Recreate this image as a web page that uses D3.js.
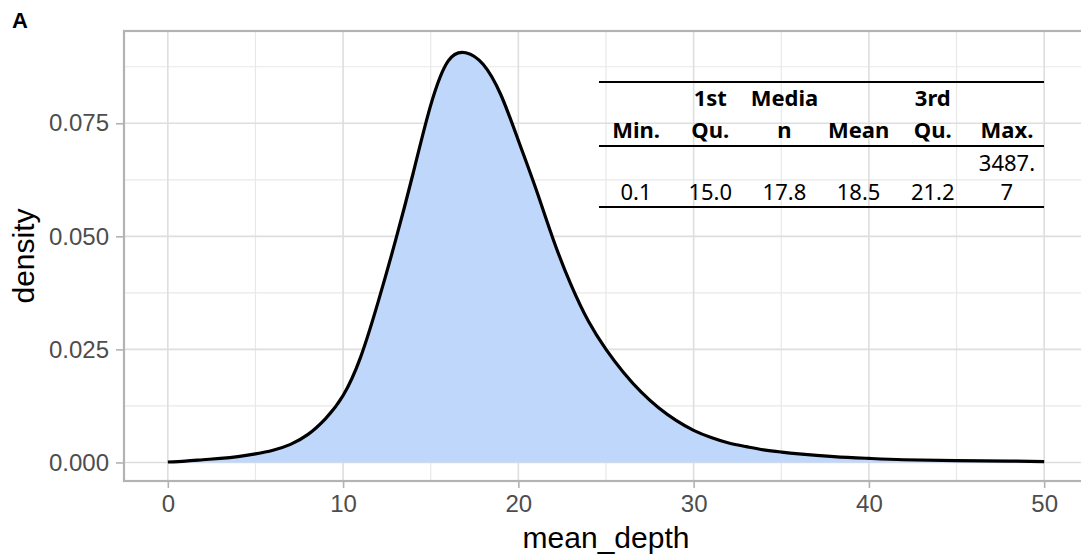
<!DOCTYPE html>
<html>
<head>
<meta charset="utf-8">
<script src="https://cdn.jsdelivr.net/npm/d3@7"></script>
<style>
  html, body { margin: 0; padding: 0; background: #fff; }
  svg { display: block; font-family: "Liberation Sans", Arial, sans-serif; }
</style>
</head>
<body>
<svg id="chart" width="1081" height="559"></svg>
<script>
// ---- data ----
const depthX = [0, 1, 2, 3, 4, 5, 6, 7, 8, 9, 10, 11, 12, 13, 14, 15, 16, 17, 18, 19, 20,
  21, 22, 23, 24, 25, 26, 27, 28, 29, 30, 31, 32, 33, 34, 35, 36, 38, 40, 42, 45, 48, 50];
const densityY = [0.0001, 0.0003, 0.0006, 0.0009, 0.0013, 0.0019, 0.0027, 0.0040, 0.0062, 0.0097,
  0.0148, 0.0233, 0.0355, 0.0492, 0.0640, 0.0790, 0.0888, 0.0906, 0.0880, 0.0813, 0.0712,
  0.0605, 0.0492, 0.0393, 0.0312, 0.0250, 0.0199, 0.0156, 0.0121, 0.0093, 0.0071,
  0.0055, 0.0043, 0.0035, 0.0028, 0.0023, 0.0019, 0.0013, 0.0009, 0.0006, 0.0004, 0.0003, 0.0002];

const xTicks = [0, 10, 20, 30, 40, 50];
const xMinor = [5, 15, 25, 35, 45];
const yTicks = [0, 0.025, 0.05, 0.075];
const yMinor = [0.0125, 0.0375, 0.0625, 0.0875];

const tableHeader1 = ["", "1st", "Media", "", "3rd", ""];
const tableHeader2 = ["Min.", "Qu.", "n", "Mean", "Qu.", "Max."];
const tableBody1 = ["", "", "", "", "", "3487."];
const tableBody2 = ["0.1", "15.0", "17.8", "18.5", "21.2", "7"];

const panelLabel = "A";
const xTitle = "mean_depth";
const yTitle = "density";

// ---- layout ----
const svg = d3.select("#chart");
const P = { left: 124, right: 1088, top: 31, bottom: 481 };

const x = d3.scaleLinear().domain([-2.5, 52.5]).range([P.left, P.right]);
const y = d3.scaleLinear().domain([-0.0041, 0.0954]).range([P.bottom, P.top]);

svg.append("clipPath").attr("id", "pclip")
  .append("rect").attr("x", P.left).attr("y", P.top)
  .attr("width", P.right - P.left).attr("height", P.bottom - P.top);

const plot = svg.append("g").attr("clip-path", "url(#pclip)");

// grid
plot.selectAll(".xminor").data(xMinor).join("line")
  .attr("x1", d => x(d)).attr("x2", d => x(d)).attr("y1", P.top).attr("y2", P.bottom)
  .attr("stroke", "#e8e8e8").attr("stroke-width", 1.2);
plot.selectAll(".yminor").data(yMinor).join("line")
  .attr("y1", d => y(d)).attr("y2", d => y(d)).attr("x1", P.left).attr("x2", P.right)
  .attr("stroke", "#e8e8e8").attr("stroke-width", 1.2);
plot.selectAll(".xmajor").data(xTicks).join("line")
  .attr("x1", d => x(d)).attr("x2", d => x(d)).attr("y1", P.top).attr("y2", P.bottom)
  .attr("stroke", "#dedede").attr("stroke-width", 1.6);
plot.selectAll(".ymajor").data(yTicks).join("line")
  .attr("y1", d => y(d)).attr("y2", d => y(d)).attr("x1", P.left).attr("x2", P.right)
  .attr("stroke", "#dedede").attr("stroke-width", 1.6);

// density
const pts = depthX.map((d, i) => [d, densityY[i]]);
const curve = d3.curveNatural;
const area = d3.area().x(d => x(d[0])).y0(y(0)).y1(d => y(d[1])).curve(curve);
const line = d3.line().x(d => x(d[0])).y(d => y(d[1])).curve(curve);
plot.append("path").datum(pts).attr("d", area).attr("fill", "#bfd7fb");
plot.append("path").datum(pts).attr("d", line).attr("fill", "none")
  .attr("stroke", "#000").attr("stroke-width", 3.2).attr("stroke-linejoin", "round");

// panel border
svg.append("rect").attr("x", P.left).attr("y", P.top)
  .attr("width", P.right - P.left).attr("height", P.bottom - P.top)
  .attr("fill", "none").attr("stroke", "#b3b3b3").attr("stroke-width", 2.2);

// axes
const xAxis = d3.axisBottom(x).tickValues(xTicks).tickSize(6).tickPadding(7).tickFormat(d3.format("d"));
const gx = svg.append("g").attr("transform", `translate(0,${P.bottom + 1})`).call(xAxis);
gx.select(".domain").remove();
gx.selectAll(".tick line").attr("stroke", "#b3b3b3").attr("stroke-width", 1.6);
gx.selectAll(".tick text").attr("fill", "#4d4d4d")
  .style("font-size", "24px").style("font-family", "'Liberation Sans', Arial, sans-serif");

const yAxis = d3.axisLeft(y).tickValues(yTicks).tickSize(7).tickPadding(7).tickFormat(d3.format(".3f"));
const gy = svg.append("g").attr("transform", `translate(${P.left - 1},0)`).call(yAxis);
gy.select(".domain").remove();
gy.selectAll(".tick line").attr("stroke", "#b3b3b3").attr("stroke-width", 1.6);
gy.selectAll(".tick text").attr("fill", "#4d4d4d")
  .style("font-size", "24px").style("font-family", "'Liberation Sans', Arial, sans-serif");

// titles
svg.append("text").attr("x", (P.left + P.right) / 2).attr("y", 548)
  .attr("text-anchor", "middle").style("font-size", "30px").attr("fill", "#000").text(xTitle);
svg.append("text").attr("transform", `translate(34,${(P.top + P.bottom) / 2}) rotate(-90)`)
  .attr("text-anchor", "middle").style("font-size", "30px").attr("fill", "#000").text(yTitle);
svg.append("text").attr("x", 12).attr("y", 28).style("font-size", "22px").style("font-weight", "bold")
  .attr("fill", "#000").text(panelLabel);

// summary table
const T = { left: 599, right: 1044, top: 82, mid: 146, bottom: 207 };
const col = d3.scaleBand().domain(d3.range(6)).range([T.left, T.right]);
const tg = svg.append("g");
[T.top, T.mid, T.bottom].forEach(yy => {
  tg.append("line").attr("x1", T.left).attr("x2", T.right).attr("y1", yy).attr("y2", yy)
    .attr("stroke", "#000").attr("stroke-width", 2);
});
const rows = [
  { vals: tableHeader1, y: 106, bold: true },
  { vals: tableHeader2, y: 138, bold: true },
  { vals: tableBody1, y: 171, bold: false },
  { vals: tableBody2, y: 200, bold: false }
];
rows.forEach(r => {
  tg.selectAll(null).data(r.vals).join("text")
    .attr("x", (d, i) => col(i) + col.bandwidth() / 2)
    .attr("y", r.y)
    .attr("text-anchor", "middle")
    .style("font-family", "'Noto Sans', 'Open Sans', sans-serif")
    .style("font-size", "22px")
    .style("font-weight", r.bold ? "bold" : "normal")
    .attr("fill", "#000")
    .text(d => d);
});
</script>
</body>
</html>
